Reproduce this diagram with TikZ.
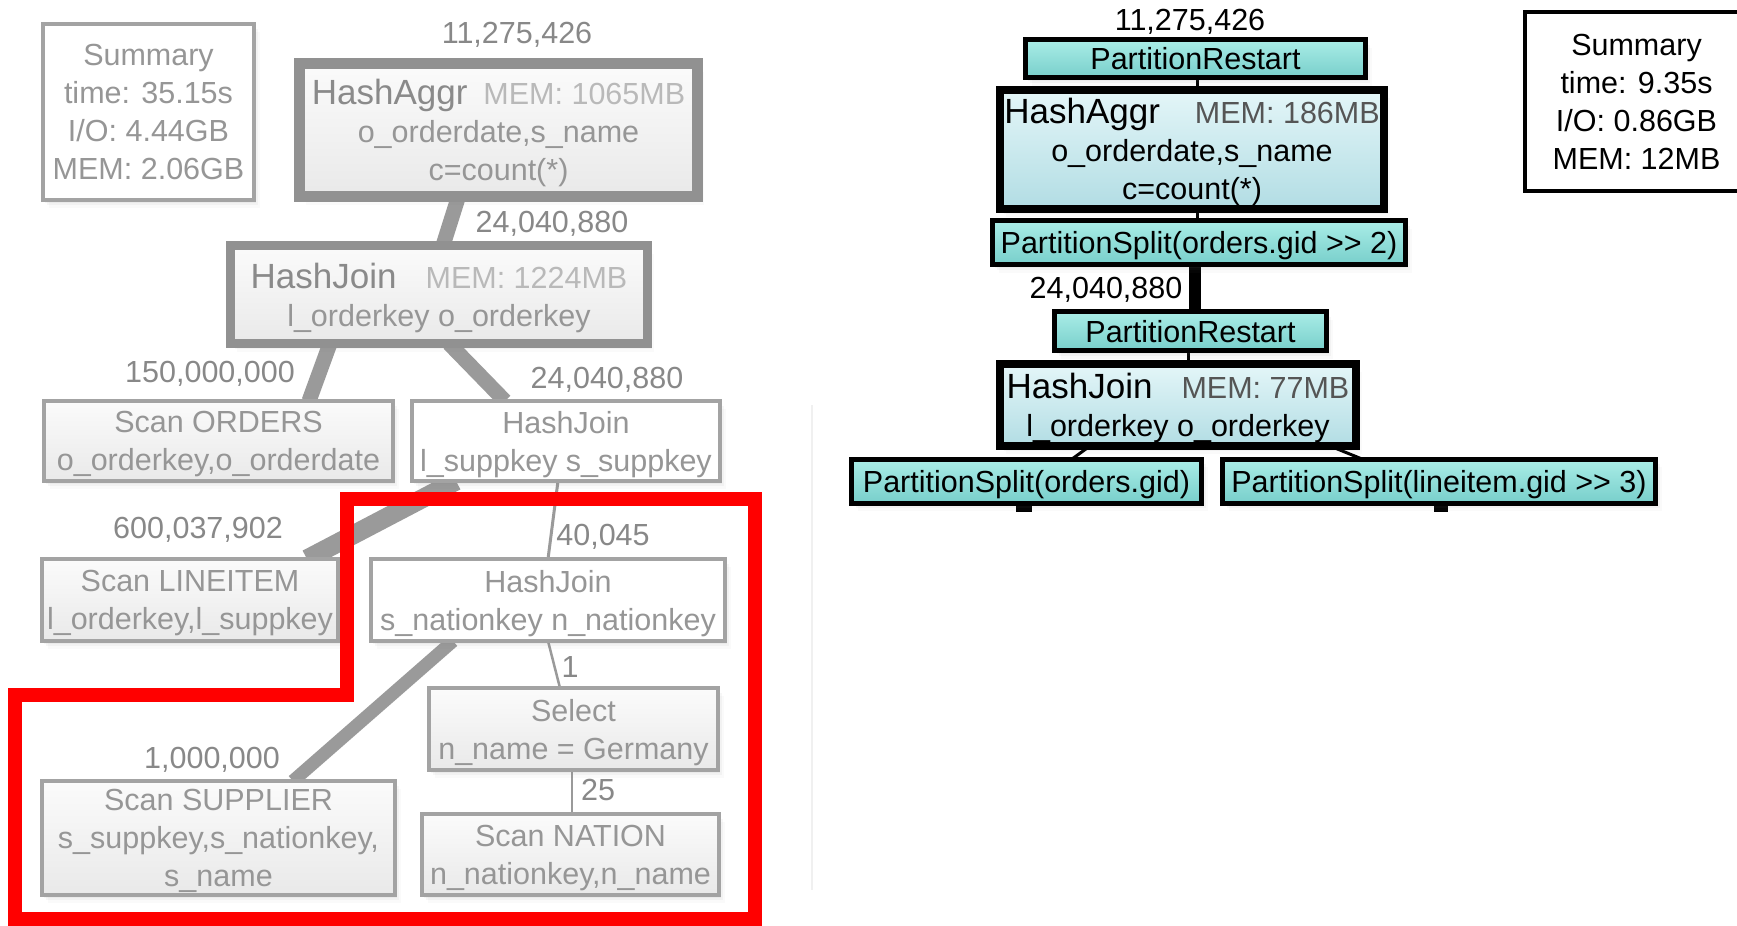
\documentclass[tikz,border=0pt]{standalone}
\usepackage{fontspec}
\setmainfont{Liberation Sans}
\usetikzlibrary{calc,shadows}
\pgfdeclarelayer{paper}
\pgfdeclarelayer{edges}
\pgfsetlayers{paper,edges,main}

% grey (baseline plan) palette
\definecolor{gtext}{RGB}{150,150,150}
\definecolor{gtitle}{RGB}{138,138,138}
\definecolor{gmem}{RGB}{185,185,185}
\definecolor{glabel}{RGB}{136,136,136}
\definecolor{gline}{RGB}{163,163,163}
\definecolor{gheavyc}{RGB}{145,145,145}
\definecolor{gedge}{RGB}{154,154,154}
\definecolor{gfilltop}{RGB}{251,251,251}
\definecolor{gfillbot}{RGB}{233,233,233}
% partitioned plan palette
\definecolor{tealtop}{RGB}{170,237,231}
\definecolor{tealbot}{RGB}{120,207,203}
\definecolor{icetop}{RGB}{228,246,248}
\definecolor{icebot}{RGB}{178,221,228}
\definecolor{memdark}{RGB}{85,85,85}

\newcommand\optitle[1]{{\fontsize{35}{38}\selectfont #1}}
% two separate '>' glyphs (kept apart from the guillemet mapping)
\newcommand\shiftop{>\kern0pt>}

\tikzset{
  every node/.style={inner sep=0pt, outer sep=0pt},
  txt/.style={font=\fontsize{30.5}{38}\selectfont, text depth=0pt},
  wh/.style 2 args={minimum width=#1pt, minimum height=#2pt},
  % soft shadow built from a few faint offset copies
  softshadow/.style={
      drop shadow={shadow xshift=2pt, shadow yshift=-3pt, opacity=0.07},
      drop shadow={shadow xshift=4pt, shadow yshift=-5pt, opacity=0.06},
      drop shadow={shadow xshift=6pt, shadow yshift=-8pt, opacity=0.04}},
  gbox/.style={rectangle, draw=gline, line width=4pt, top color=gfilltop,
      bottom color=gfillbot, text=gtext, align=center, txt, softshadow},
  gwhite/.style={gbox, top color=white, bottom color=white},
  gheavy/.style={draw=gheavyc, line width=#1pt},
  gsum/.style={rectangle, draw=gline, line width=4pt, fill=white,
      text=gtext, align=center, txt, softshadow},
  glab/.style={text=glabel, txt},
  gflow/.style={draw=gedge, line cap=butt},
  tbox/.style={rectangle, draw=black, line width=5pt, top color=tealtop,
      bottom color=tealbot, text=black, align=center, txt, softshadow},
  ibox/.style={tbox, line width=8pt, top color=icetop, bottom color=icebot},
  rsum/.style={rectangle, draw=black, line width=4pt, fill=white,
      text=black, align=center, txt},
  rlab/.style={text=black, txt},
  rflow/.style={draw=black, line cap=butt},
}

\begin{document}
\begin{tikzpicture}[x=1pt,y=-1pt]
\clip (0,0) rectangle (1737,926);
\begin{pgfonlayer}{paper}
  \fill[white] (0,0) rectangle (1737,926);
\end{pgfonlayer}

% ---------------- baseline plan (grey) ----------------
\node[gsum, wh={211}{176}] (sumL) at (148.5,112)
  {Summary\\time: 35.15s\\I/O: 4.44GB\\MEM: 2.06GB};
\node[gbox, gheavy=11, wh={398}{133}] (aggL) at (498.5,130)
  {{\color{gtitle}\optitle{HashAggr}}\hspace{16pt}{\color{gmem}MEM: 1065MB}\\o\_orderdate,s\_name\\c=count(*)};
\node[gbox, gheavy=9, wh={417}{98}] (hjL) at (439,294.5)
  {{\color{gtitle}\optitle{HashJoin}}\hspace{29pt}{\color{gmem}MEM: 1224MB}\\l\_orderkey o\_orderkey};
\node[gbox, wh={349}{80}] (ordL) at (218.5,441)
  {Scan ORDERS\\o\_orderkey,o\_orderdate};
\node[gwhite, wh={308}{80}] (hj2L) at (566,441)
  {HashJoin\\l\_suppkey s\_suppkey};
\node[gbox, wh={296}{82}] (liL) at (190,600)
  {Scan LINEITEM\\l\_orderkey,l\_suppkey};
\node[gwhite, wh={354}{82}] (hj3L) at (548,600)
  {HashJoin\\s\_nationkey n\_nationkey};
\node[gbox, wh={289}{82}] (selL) at (573.5,729)
  {Select\\n\_name = Germany};
\node[gbox, wh={353}{114}] (supL) at (218.5,838)
  {Scan SUPPLIER\\s\_suppkey,s\_nationkey,\\s\_name};
\node[gbox, wh={297}{81}] (natL) at (570.5,854.5)
  {Scan NATION\\n\_nationkey,n\_name};

% row counts
\node[glab] (cL1) at (517,33) {11,275,426};
\node[glab] (cL2) at (552,222) {24,040,880};
\node[glab] (cL3) at (210,372) {150,000,000};
\node[glab] (cL4) at (607,378) {24,040,880};
\node[glab] (cL5) at (198,528) {600,037,902};
\node[glab] (cL6) at (603,535) {40,045};
\node[glab] (cL7) at (570,667) {1};
\node[glab] (cL8) at (212,758) {1,000,000};
\node[glab] (cL9) at (598,790) {25};

\begin{pgfonlayer}{edges}
  \draw[gflow, line width=15pt] ([xshift=-40pt]aggL.south) -- ([xshift=4pt]hjL.north);
  \draw[gflow, line width=15pt] ([xshift=-109pt]hjL.south) -- ([xshift=90.5pt]ordL.north);
  \draw[gflow, line width=15pt] ([xshift=10pt]hjL.south) -- ([xshift=-61pt]hj2L.north);
  \draw[gflow, line width=19pt] ([xshift=-110pt]hj2L.south) -- ([xshift=117pt]liL.north);
  \draw[gflow, line width=3pt] ([xshift=-8pt]hj2L.south) -- (hj3L.north);
  \draw[gflow, line width=13pt] ([xshift=-95pt]hj3L.south) -- ([xshift=74.5pt]supL.north);
  \draw[gflow, line width=2.5pt] (hj3L.south) -- ([xshift=-13.5pt]selL.north);
  \draw[gflow, line width=2.5pt] ([xshift=-1.5pt]selL.south) -- ([xshift=1.5pt]natL.north);
\end{pgfonlayer}

% highlighted sub-plan
\draw[red, line width=14pt, line join=miter]
  (347,499) -- (755,499) -- (755,919) -- (15,919) -- (15,695) -- (347,695) -- cycle;

% faint seam between the two plans
\draw[black!6, line width=2pt] (812,405) -- (812,890);

% ---------------- partitioned plan ----------------
\node[tbox, wh={340}{38}] (pr1) at (1195.5,58.5) {PartitionRestart};
\node[ibox, wh={384}{119}] (aggR) at (1192,149)
  {\optitle{HashAggr}\hspace{35pt}{\color{memdark}MEM: 186MB}\\o\_orderdate,s\_name\\c=count(*)};
\node[tbox, wh={413}{44}] (ps1) at (1199,242.5) {PartitionSplit(orders.gid \shiftop{} 2)};
\node[tbox, wh={272}{39}] (pr2) at (1190.5,331) {PartitionRestart};
\node[ibox, wh={356}{82}] (hjR) at (1178,405)
  {\optitle{HashJoin}\hspace{29pt}{\color{memdark}MEM: 77MB}\\l\_orderkey o\_orderkey};
\node[tbox, wh={350}{44}] (psO) at (1026.5,481) {PartitionSplit(orders.gid)};
\node[tbox, wh={433}{44}] (psL) at (1439,481) {PartitionSplit(lineitem.gid \shiftop{} 3)};
\node[rsum, wh={223}{179}] (sumR) at (1636.5,101.5)
  {Summary\\time: 9.35s\\I/O: 0.86GB\\MEM: 12MB};

\node[rlab] (cR1) at (1190,20) {11,275,426};
\node[rlab] (cR2) at (1106,288) {24,040,880};

\coordinate (stubO) at ([xshift=-2.5pt,yshift=-9pt]psO.south);
\coordinate (stubL) at ([xshift=2pt,yshift=-9pt]psL.south);

\begin{pgfonlayer}{edges}
  \draw[rflow, line width=3pt] ([xshift=1.5pt]pr1.south) -- ([xshift=5pt]aggR.north);
  \draw[rflow, line width=3pt] ([xshift=5pt]aggR.south) -- ([xshift=-2pt]ps1.north);
  \draw[rflow, line width=12pt] ([xshift=-4pt]ps1.south) -- ([xshift=4.5pt]pr2.north);
  \draw[rflow, line width=3pt] ([xshift=-2.5pt]pr2.south) -- ([xshift=10pt]hjR.north);
  \draw[rflow, line width=3pt] ([xshift=-88pt]hjR.south) -- ([xshift=45.5pt]psO.north);
  \draw[rflow, line width=3pt] ([xshift=152pt]hjR.south) -- ([xshift=-77pt]psL.north);
  \draw[rflow, line width=16pt] ([xshift=-2.5pt]psO.south) -- (stubO);
  \draw[rflow, line width=14pt] ([xshift=2pt]psL.south) -- (stubL);
\end{pgfonlayer}
\end{tikzpicture}
\end{document}
